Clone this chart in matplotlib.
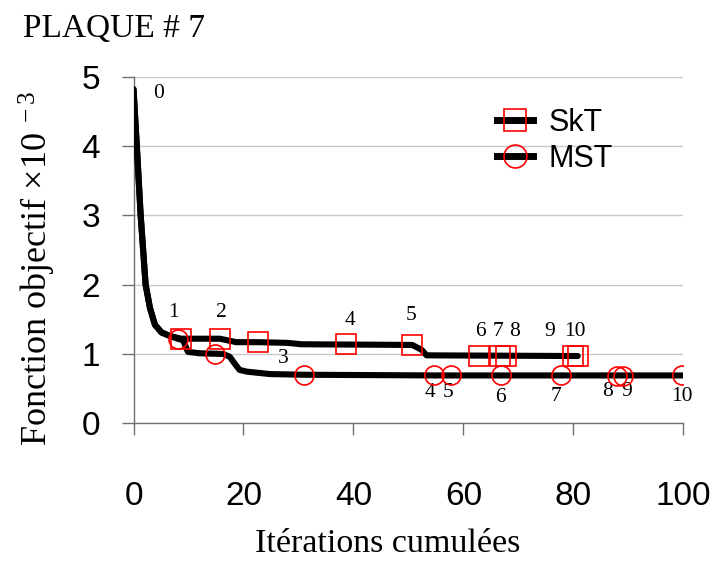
import matplotlib.pyplot as plt
from matplotlib.lines import Line2D

plt.rcParams['font.family'] = 'Liberation Sans'
plt.rcParams['mathtext.fontset'] = 'custom'
plt.rcParams['mathtext.rm'] = 'Liberation Serif'
plt.rcParams['mathtext.it'] = 'Liberation Serif:italic'

# objective function (x 1e-3) vs cumulated iterations
skt_x = [0, 0.6, 1.3, 2.2, 3.0, 3.9, 5.1, 6.6, 8.7, 15.7, 17.5, 18.7, 22.7,
         28, 30.5, 50.7, 52.4, 53.3, 80.8]
skt_y = [4.82, 4.0, 3.0, 2.0, 1.66, 1.42, 1.31, 1.26, 1.22, 1.22, 1.19, 1.17,
         1.17, 1.16, 1.14, 1.13, 1.06, 0.98, 0.97]

mst_x = [0, 0.6, 1.3, 2.2, 3.0, 3.9, 5.1, 6.6, 8.0, 9.0, 9.9, 12, 16.3, 17.5,
         18.5, 19.3, 20.6, 24.8, 31, 55, 100]
mst_y = [4.82, 4.0, 3.0, 2.0, 1.66, 1.42, 1.31, 1.26, 1.22, 1.20, 1.03, 1.01,
         1.0, 0.96, 0.85, 0.77, 0.745, 0.71, 0.70, 0.69, 0.69]

# restart points
skt_mx = [8.7, 15.7, 22.7, 38.7, 50.7, 62.8, 66.6, 67.8, 79.9, 80.8]
skt_my = [1.22, 1.22, 1.17, 1.14, 1.13, 0.97, 0.97, 0.97, 0.97, 0.97]
mst_mx = [8.0, 14.9, 31.0, 54.7, 57.8, 66.8, 77.8, 87.9, 89.0, 99.8]
mst_my = [1.22, 1.0, 0.70, 0.69, 0.69, 0.69, 0.69, 0.68, 0.68, 0.69]

skt_labels = ['1', '2', '', '4', '5', '6', '7', '8', '9', '10']
mst_labels = ['', '', '3', '4', '5', '6', '7', '8', '9', '10']

# label offsets in points from each marker
skt_off = [(-6, 19), (1, 19), (0, 0), (2.5, 17), (-1, 21), (1, 17.5),
           (-1.2, 17.5), (6, 17.5), (-16.5, 17.5), (-2, 17.5)]
mst_off = [(0, 0), (0, 0), (-15, 12), (-3, -12.5), (-2.5, -12.5), (0, -16),
           (-3.5, -15), (-6.5, -11), (2.5, -11), (-0.5, -15)]

fig = plt.figure(figsize=(7.14, 5.61), dpi=100)
ax = fig.add_axes([0.187, 0.2455, 0.770, 0.6178])

ax.plot(skt_x, skt_y, color='black', lw=4.4, solid_capstyle='round', zorder=3)
ax.plot(mst_x, mst_y, color='black', lw=4.4, solid_capstyle='round', zorder=3)
ax.plot(skt_mx, skt_my, ls='none', marker='s', ms=13.7, mfc='none',
        mec='#ff0000', mew=1.2, zorder=4)
ax.plot(mst_mx, mst_my, ls='none', marker='o', ms=13.7, mfc='none',
        mec='#ff0000', mew=1.2, zorder=4)

serif = 'Liberation Serif'
for x, y, t, off in zip(skt_mx, skt_my, skt_labels, skt_off):
    if t:
        ax.annotate(t, (x, y), xytext=off, textcoords='offset points',
                    ha='center', va='center', fontsize=15.5, family=serif)
for x, y, t, off in zip(mst_mx, mst_my, mst_labels, mst_off):
    if t:
        ax.annotate(t, (x, y), xytext=off, textcoords='offset points',
                    ha='center', va='center', fontsize=15.5, family=serif)
ax.annotate('0', (skt_x[0], skt_y[0]), xytext=(17.7, -3),
            textcoords='offset points', ha='center', va='center',
            fontsize=15.5, family=serif)

ax.set_xlim(0, 100)
ax.set_ylim(0, 5)
ax.set_xticks(range(0, 101, 20))
ax.set_yticks(range(0, 6))
ax.yaxis.grid(True, color='#c8c8c8', lw=1)
ax.set_axisbelow(True)
for s in ['top', 'right']:
    ax.spines[s].set_visible(False)
for s in ['left', 'bottom']:
    ax.spines[s].set_color('#707070')
    ax.spines[s].set_linewidth(1)
ax.tick_params(axis='both', direction='out', length=8.6, width=1,
               color='#707070', labelsize=24)
ax.tick_params(axis='x', pad=33)
ax.tick_params(axis='y', pad=15.5)

fig.text(0.032, 0.9346, 'PLAQUE # 7', family=serif, fontsize=24,
         ha='left', va='baseline')
fig.text(0.543, 0.016, 'Itérations cumulées', family=serif, fontsize=24.5,
         ha='center', va='baseline')
fig.text(0.052, 0.522, r'Fonction objectif $\times$10$^{\ -3}$', family=serif,
         fontsize=26, rotation=90, ha='center', va='center')

handles = [
    Line2D([], [], color='black', lw=5, marker='s', ms=16.5, mfc='none',
           mec='#ff0000', mew=1.2),
    Line2D([], [], color='black', lw=5, marker='o', ms=16.5, mfc='none',
           mec='#ff0000', mew=1.2),
]
ax.legend(handles, ['SkT', 'MST'], loc='upper left',
          bbox_to_anchor=(496.7 / 714, 1 - 108 / 561),
          bbox_transform=fig.transFigure, frameon=False, fontsize=22,
          handlelength=1.2, handletextpad=0.5, labelspacing=0.2,
          borderpad=0, borderaxespad=0)

fig.savefig('out.png', dpi=100, facecolor='white')
